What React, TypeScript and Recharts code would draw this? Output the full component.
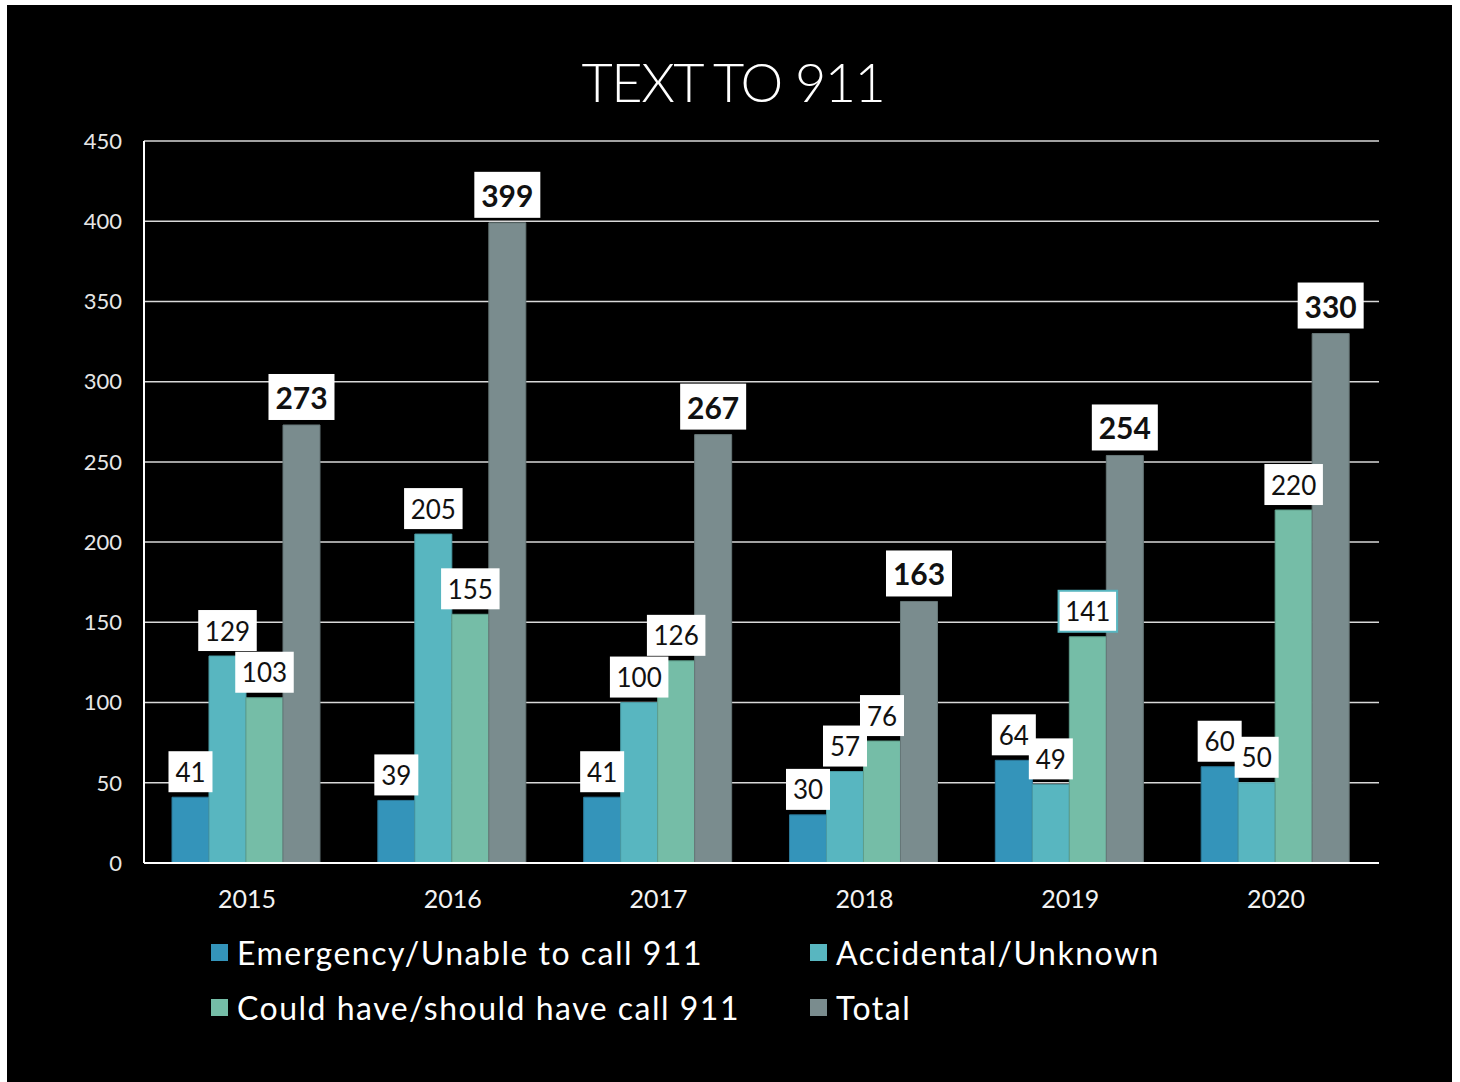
import { BarChart, Bar, XAxis, YAxis, CartesianGrid, LabelList } from "recharts";

const years = ["2015", "2016", "2017", "2018", "2019", "2020"];
const emergency = [41, 39, 41, 30, 64, 60];
const accidental = [129, 205, 100, 57, 49, 50];
const couldHave = [103, 155, 126, 76, 141, 220];
const total = [273, 399, 267, 163, 254, 330];
const yTicks = [0, 50, 100, 150, 200, 250, 300, 350, 400, 450];

const seriesNames = [
  "Emergency/Unable to call 911",
  "Accidental/Unknown",
  "Could have/should have call 911",
  "Total",
];
const seriesColors = ["#3494BA", "#58B6C0", "#75BDA7", "#7A8C8E"];
const seriesStrokes = ["#2b7898", "#4a9aa3", "#5f9e8b", "#667677"];

const data = years.map((year, i) => ({
  year,
  emergency: emergency[i],
  accidental: accidental[i],
  couldHave: couldHave[i],
  total: total[i],
}));

const FONT = "'Lato', 'Open Sans', sans-serif";

const makeLabel = (bold: boolean, outlineIndex?: number) => (props: any) => {
  const { x, y, width, value, index } = props;
  const text = String(value);
  const charW = bold ? 17 : 14.5;
  const fontSize = bold ? 30 : 26;
  const h = bold ? 46 : 41;
  const w = text.length * charW + 15;
  const cx = x + width / 2;
  const bottom = y - 5;
  const outlined = outlineIndex === index;
  return (
    <g>
      <rect
        x={cx - w / 2}
        y={bottom - h}
        width={w}
        height={h}
        fill="#fff"
        stroke={outlined ? "#58B6C0" : "none"}
        strokeWidth={outlined ? 2 : 0}
      />
      <text
        x={cx}
        y={bottom - h / 2}
        textAnchor="middle"
        dominantBaseline="central"
        fontSize={fontSize}
        fontWeight={bold ? 700 : 400}
        fontFamily={FONT}
        fill="#111"
      >
        {text}
      </text>
    </g>
  );
};

const App = () => {
  return (
    <div
      style={{
        position: "absolute",
        left: 7,
        top: 5,
        width: 1445,
        height: 1077,
        background: "#000",
      }}
    >
      <div
        style={{
          position: "absolute",
          top: 44,
          left: 0,
          width: 1452,
          textAlign: "center",
          color: "#fff",
          fontFamily: FONT,
          fontWeight: 300,
          fontSize: 54,
          lineHeight: "66px",
          letterSpacing: -1.5,
        }}
      >
        TEXT TO 911
      </div>
      <BarChart
        width={1445}
        height={1077}
        data={data}
        margin={{ top: 136, right: 73, bottom: 169, left: 67 }}
        barCategoryGap="13.6%"
        barGap={0}
      >
        <CartesianGrid vertical={false} stroke="#d9d9d9" strokeWidth={1.5} />
        <XAxis
          dataKey="year"
          stroke="#fff"
          strokeWidth={2}
          tickLine={false}
          tickSize={0}
          tickMargin={27}
          height={50}
          tick={{ fill: "#f2f2f2", fontSize: 25, fontFamily: FONT }}
        />
        <YAxis
          domain={[0, 450]}
          ticks={yTicks}
          stroke="#fff"
          strokeWidth={2}
          tickLine={false}
          tickSize={0}
          tickMargin={22}
          width={70}
          tick={{ fill: "#e6e6e6", fontSize: 22, fontFamily: FONT }}
        />
        <Bar dataKey="emergency" name={seriesNames[0]} fill={seriesColors[0]} stroke={seriesStrokes[0]} strokeWidth={1} isAnimationActive={false}>
          <LabelList dataKey="emergency" content={makeLabel(false)} />
        </Bar>
        <Bar dataKey="accidental" name={seriesNames[1]} fill={seriesColors[1]} stroke={seriesStrokes[1]} strokeWidth={1} isAnimationActive={false}>
          <LabelList dataKey="accidental" content={makeLabel(false)} />
        </Bar>
        <Bar dataKey="couldHave" name={seriesNames[2]} fill={seriesColors[2]} stroke={seriesStrokes[2]} strokeWidth={1} isAnimationActive={false}>
          <LabelList dataKey="couldHave" content={makeLabel(false, 4)} />
        </Bar>
        <Bar dataKey="total" name={seriesNames[3]} fill={seriesColors[3]} stroke={seriesStrokes[3]} strokeWidth={1} isAnimationActive={false}>
          <LabelList dataKey="total" content={makeLabel(true)} />
        </Bar>
      </BarChart>
      <div
        style={{
          position: "absolute",
          top: 929,
          left: 204,
          display: "grid",
          gridTemplateColumns: "599px 500px",
          rowGap: 19,
          fontFamily: FONT,
          fontSize: 32,
          letterSpacing: 1.5,
          color: "#fff",
          whiteSpace: "nowrap",
        }}
      >
        {seriesNames.map((name, i) => (
          <div key={name} style={{ display: "flex", alignItems: "center", height: 36 }}>
            <span style={{ width: 17, height: 17, background: seriesColors[i], marginRight: 9, display: "inline-block" }} />
            <span>{name}</span>
          </div>
        ))}
      </div>
    </div>
  );
};

export default App;
